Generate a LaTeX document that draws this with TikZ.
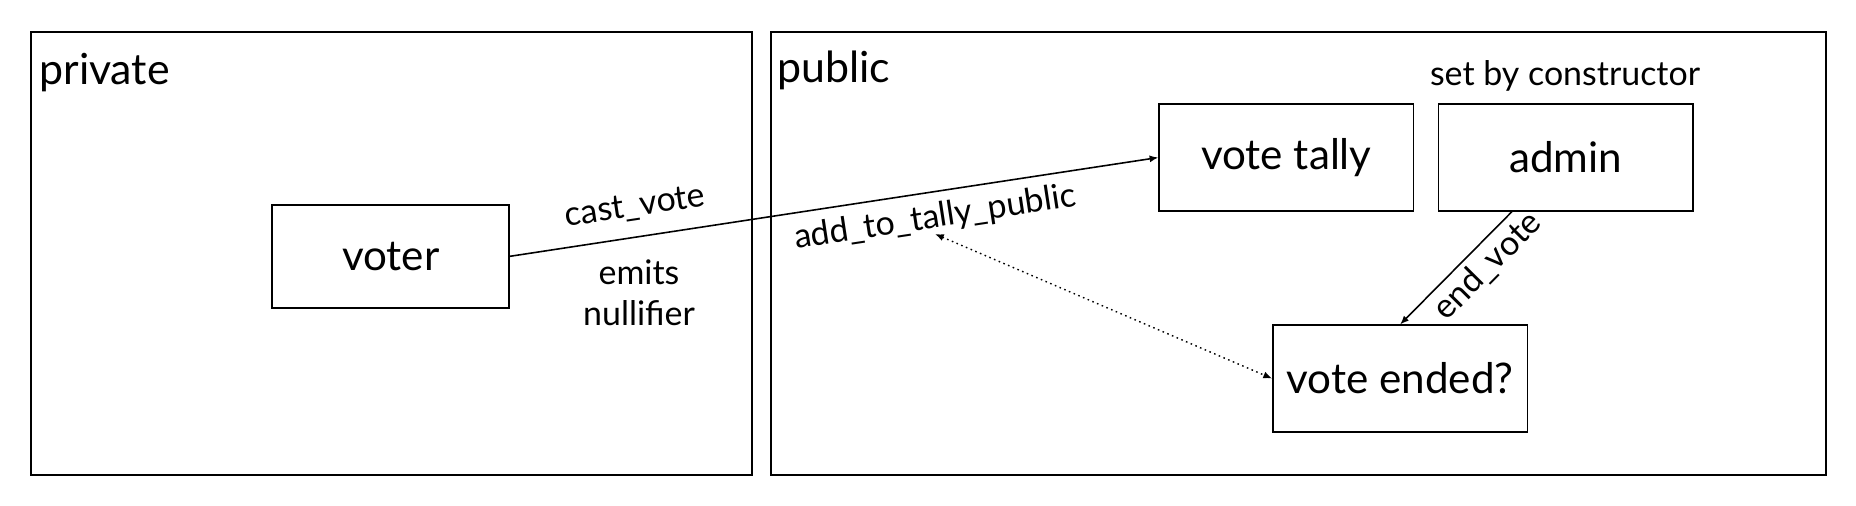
\documentclass[tikz,border=0pt]{standalone}
\usepackage{fontspec}
\setmainfont{Lato}
\usetikzlibrary{arrows.meta,calc}
\tikzstyle{region}=[draw, line width=0.9pt, inner sep=0pt]
\tikzstyle{block}=[draw, line width=0.9pt, minimum width=5.09cm, minimum height=2.13cm, font=\fontsize{24}{28}\selectfont]
\tikzstyle{title}=[anchor=base west, inner sep=0pt, font=\fontsize{24.4}{29}\selectfont]
\tikzstyle{lbl}=[inner sep=0pt, font=\fontsize{19.3}{23.5}\selectfont]
\newcommand{\block}{\node[block]}

\begin{document}
\begin{tikzpicture}[x=0.02cm, y=-0.02cm
  ,flow/.style={draw, line width=0.9pt, -{Latex[length=5pt,width=4pt]}}
]
\useasboundingbox[fill=white] (0,0) rectangle (1856,505);
\node[region, minimum width=14.42cm, minimum height=8.86cm] (private) at (391.3,253.4) {};
\node[region, minimum width=21.10cm, minimum height=8.86cm] (public) at (1298.3,253.4) {};
\node[title] (privlbl) at (39,84) {private};
\node[title] (publbl) at (777,82) {public};
\block[minimum width=4.74cm, minimum height=2.06cm] (voter) at (390.7,256.3) {voter};
\block (tally) at (1286.4,157.5) {vote tally};
\block (admin) at (1565.8,157.5) {admin};
\block (ended) at (1400.1,378.5) {vote ended?};
\node[lbl] (setby) at (1565,75.5) {set by constructor};
\node[lbl, align=center] (emits) at (639,293) {emits\\nullifier};
\coordinate (dotstart) at (935,234);
\coordinate (adminout) at ($(admin.south west)!0.29!(admin.south east)$);
\path
(voter.east) edge[flow] node[lbl, sloped, pos=0.2, above=0.3cm] {cast\_vote}
  node[lbl, sloped, pos=0.65, below=0.2cm] {add\_to\_tally\_public} (tally.west)
(adminout) edge[flow] node[lbl, sloped, pos=0.35, below=0.11cm] {end\_vote} (ended.north)
(dotstart) edge[flow, dotted, line width=0.8pt, {Latex[length=5pt,width=4pt]}-{Latex[length=5pt,width=4pt]}] (ended.west)
;
\end{tikzpicture}
\end{document}
